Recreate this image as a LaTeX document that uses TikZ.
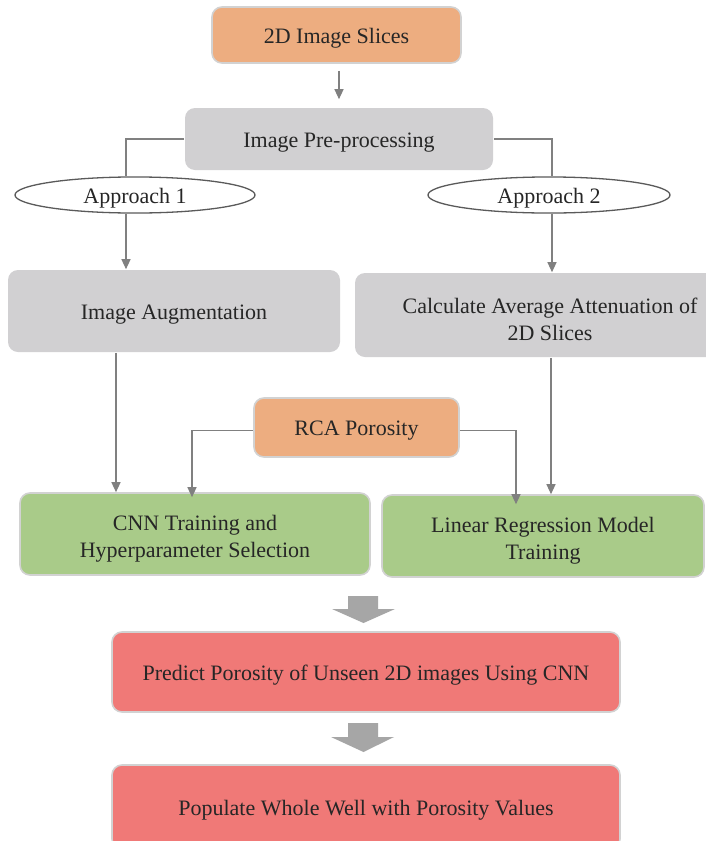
\documentclass[tikz,border=0pt]{standalone}
\usepackage{fontspec}
\setmainfont{Liberation Serif}
\newfontfamily\boxfont{Liberation Serif}
\usetikzlibrary{arrows.meta,shapes.geometric,calc}

\definecolor{boxorange}{HTML}{EDAD80}
\definecolor{boxgray}{HTML}{D1D0D2}
\definecolor{boxgreen}{HTML}{A9CB89}
\definecolor{boxred}{HTML}{F07977}
\definecolor{rim}{HTML}{D2D2D2}
\definecolor{wire}{HTML}{808080}
\definecolor{bigarrow}{HTML}{A6A6A6}
\definecolor{ink}{HTML}{262626}
\definecolor{ovalrim}{HTML}{5A5A5A}

% taller first line so that two-line labels sit a little lower in their box
\newcommand{\firstline}{\rule{0pt}{24pt}}

\tikzset{
  stage/.style={rectangle, rounded corners=10pt, draw=rim, line width=1.6pt,
    text=ink, font=\boxfont\fontsize{22}{27}\selectfont, align=center, inner sep=0pt},
  plain/.style={stage, draw=none, fill=boxgray},
  oneline/.style={text height=21pt, text depth=4.5pt},
  oval/.style={ellipse, draw=ovalrim, line width=1.3pt, fill=white, inner sep=0pt,
    text=ink, font=\boxfont\fontsize{22}{27}\selectfont, oneline},
  wireline/.style={draw=wire, line width=1.2pt},
  flow/.style={wireline, -{Triangle[length=10pt,width=9pt]}},
}

\begin{document}
\begin{tikzpicture}[x=1pt,y=-1pt]
  \useasboundingbox (0,0) rectangle (705,841);
  \fill[white] (0,0) rectangle (705,841);

  % boxes
  \node[stage, oneline, fill=boxorange, minimum width=249, minimum height=56] (slices) at (336.5,35) {2D Image Slices};
  \node[plain, oneline, minimum width=308, minimum height=62] (prep) at (339,139) {Image Pre-processing};
  \node[oval, minimum width=240, minimum height=36] (app1) at (135,195) {Approach 1};
  \node[oval, minimum width=242, minimum height=33] (app2) at (549,195) {Approach 2};
  \node[plain, oneline, minimum width=332, minimum height=82] (aug) at (174,311) {Image Augmentation};
  \node[plain, minimum width=390, minimum height=84] (atten) at (550,315) {\firstline Calculate Average Attenuation of\\2D Slices};
  \node[stage, oneline, fill=boxorange, minimum width=205, minimum height=59] (rca) at (356.5,427.5) {RCA Porosity};
  \node[stage, fill=boxgreen, minimum width=350, minimum height=82] (cnn) at (195,534) {\firstline CNN Training and\\Hyperparameter Selection};
  \node[stage, fill=boxgreen, minimum width=322, minimum height=82] (linreg) at (543,536) {\firstline Linear Regression Model\\Training};
  \node[stage, oneline, fill=boxred, minimum width=508, minimum height=80] (predict) at (366,672) {Predict Porosity of Unseen 2D images Using CNN};
  \node[stage, oneline, fill=boxred, minimum width=508, minimum height=84] (populate) at (366,807) {Populate Whole Well with Porosity Values};

  % thin connectors
  \draw[flow] ($(slices.south -| prep.north)+(0,7)$) -- ($(prep.north)+(0,-8)$);
  \draw[wireline] (prep.west) -| ($(app1.north)+(-9,0)$);
  \draw[wireline] (prep.east) -| ($(app2.north)+(3,0)$);
  \draw[flow] ($(app1.south)+(-9,0)$) -- (aug.north -| 126,0);
  \draw[flow] ($(app2.south)+(3,0)$) -- (atten.north -| 552,0);
  \draw[flow] (aug.south -| 116,0) -- (cnn.north -| 116,0);
  \draw[flow] (atten.south -| 551,0) -- (linreg.north -| 551,0);
  \draw[flow] ([yshift=-3pt]rca.west) -| ([yshift=-5pt]cnn.north -| 192,0);
  \draw[flow] ([yshift=-3pt]rca.east) -| ([yshift=-10pt]linreg.north -| 516,0);

  % block arrows
  \fill[bigarrow] (348,596) -- (378,596) -- (378,609) -- (395,609) -- (363.5,623)
    -- (332,609) -- (348,609) -- cycle;
  \fill[bigarrow] (348,723) -- (378,723) -- (378,737) -- (394,737) -- (363.5,752)
    -- (331,737) -- (348,737) -- cycle;
\end{tikzpicture}
\end{document}
